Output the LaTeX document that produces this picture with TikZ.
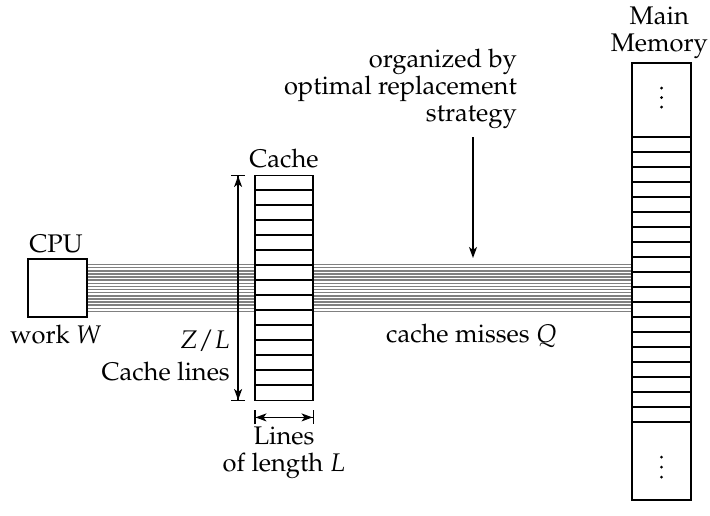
\documentclass[tikz,border=0pt]{standalone}
\usepackage[T1]{fontenc}
\usepackage{mathpazo}
\usepackage{tikz}
\usetikzlibrary{arrows.meta,calc,backgrounds}

\tikzset{
  boxline/.style={black,line width=1.8pt},
  unitbox/.style={boxline,draw,fill=white,rectangle,inner sep=0pt},
  busline/.style={black!50,line width=1.5pt},
  pointer/.style={black,line width=1.4pt,-{Stealth[length=11pt,width=8pt,inset=3pt]}},
  dimarrow/.style={black,line width=1.4pt,
    {Bar[width=14pt]Stealth[length=11pt,width=8pt,inset=3pt]}-{Stealth[length=11pt,width=8pt,inset=3pt]Bar[width=14pt]}},
  lbl/.style={inner sep=0pt}
}

\begin{document}
\begin{tikzpicture}[x=1pt,y=-1pt,font=\fontsize{25.5}{27}\selectfont]
\useasboundingbox (0,0) rectangle (710,515);

\node[unitbox,minimum width=59,minimum height=58] (cpu) at (57.5,288) {};
\node[unitbox,minimum width=58,minimum height=225] (cache) at (284,288) {};
\node[unitbox,minimum width=59,minimum height=437] (mem) at (661.5,281.5) {};

\begin{pgfonlayer}{background}
\foreach \b in {0,...,15}
  \draw[busline] ($(cpu.east)+(0,-23.5+\b*3.13)$) -- ($(cpu.east -| mem.west)+(0,-23.5+\b*3.13)$);
\end{pgfonlayer}

\foreach \r in {1,...,14}
  \draw[boxline] ($(cache.north west)+(0,\r*15)$) -- ($(cache.north east)+(0,\r*15)$);
\foreach \r in {0,...,19}
  \draw[boxline] ($(mem.north west)+(0,75+\r*15)$) -- ($(mem.north east)+(0,75+\r*15)$);

\foreach \d in {26,35.5,45,395,405,415}
  \fill[black] ($(mem.north)+(0,\d)$) circle (1.6pt);

\node[lbl,anchor=base] (cpulbl) at (56,252) {CPU};
\node[lbl,anchor=base] (worklbl) at (56,343) {work $W$};
\node[lbl,anchor=base] (cachelbl) at (284,167) {Cache};
\node[lbl,anchor=base east] (zl) at (230,348) {$Z/L$};
\node[lbl,anchor=base east] (clines) at (230,380) {Cache lines};
\node[lbl,anchor=north,align=center] (linelen) at (284,426.5) {Lines\\of length $L$};
\node[lbl,anchor=north east,align=right] (strat) at (517,48.5) {organized by\\optimal replacement\\strategy};
\node[lbl,anchor=base] (misses) at (471.5,342) {cache misses $Q$};
\node[lbl,anchor=north east,align=center] (memlbl) at (708,6.5) {Main\\Memory};

\coordinate (zltop) at ($(cache.north west)+(-16,0)$);
\coordinate (zlbot) at ($(cache.south west)+(-16,0)$);
\draw[dimarrow] (zltop) -- (zlbot);

\coordinate (lenl) at ($(cache.south west)+(0,16)$);
\coordinate (lenr) at ($(cache.south east)+(0,16)$);
\draw[dimarrow] (lenl) -- (lenr);

\coordinate (stratsrc) at (473,137);
\coordinate (strattgt) at (473,258);
\draw[pointer] (stratsrc) -- (strattgt);

\end{tikzpicture}
\end{document}
